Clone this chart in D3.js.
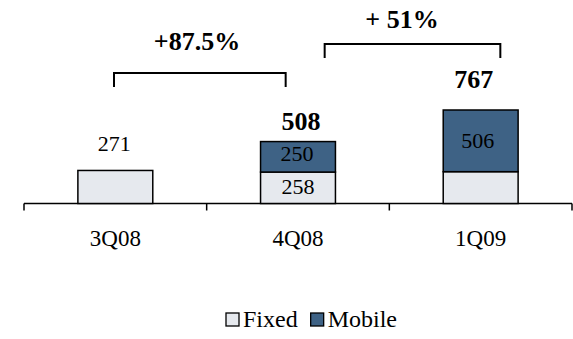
<!DOCTYPE html>
<html><head><meta charset="utf-8">
<script src="https://cdn.jsdelivr.net/npm/d3@7"></script>
<style>body{margin:0;background:#fff}svg{display:block}text{font-family:"Liberation Serif","Times New Roman",serif;fill:#000}</style>
</head><body><svg id="c" width="573" height="339"></svg>
<script>
const categories = ["3Q08", "4Q08", "1Q09"];
const fixedValues = [271, 258, 261];
const mobileValues = [0, 250, 506];
const totalLabels = [null, 508, 767];
const fixedLabels = ["271", "258", ""];
const mobileLabels = ["", "250", "506"];
const growthLabels = ["+87.5%", "+ 51%"];
const seriesNames = ["Fixed", "Mobile"];
const colors = {Fixed: "#e6e9ee", Mobile: "#3e6285"};

const svg = d3.select("#c");
const x = d3.scaleBand().domain(categories).range([24, 572]).padding(0);
const y = d3.scaleLinear().domain([0, 767]).range([203.5, 110]);
const bw = x.bandwidth() * 0.41;

const data = categories.map((c, i) => ({cat: c, Fixed: fixedValues[i], Mobile: mobileValues[i]}));
const stacked = d3.stack().keys(seriesNames)(data);

// axis
const axisG = svg.append("g").attr("transform", "translate(0,203.5)");
axisG.append("line").attr("x1", 24).attr("x2", 572).attr("stroke", "#000").attr("stroke-width", 1.5);
const tickXs = categories.map(c => x(c)).concat([x(categories[categories.length-1]) + x.bandwidth()]);
axisG.selectAll("line.tick").data(tickXs).join("line").attr("class","tick")
  .attr("x1", d => d).attr("x2", d => d).attr("y1", 0).attr("y2", 7)
  .attr("stroke", "#000").attr("stroke-width", 1.5);
axisG.selectAll("text.cat").data(categories).join("text").attr("class","cat")
  .attr("x", d => x(d) + x.bandwidth()/2).attr("y", 42)
  .attr("text-anchor", "middle").attr("font-size", 23).text(d => d);

// bars
stacked.forEach(s => {
  svg.append("g").selectAll("rect").data(s.filter(d => d[1] - d[0] > 0)).join("rect")
    .attr("x", d => x(d.data.cat) + x.bandwidth()/2 - bw/2)
    .attr("width", bw)
    .attr("y", d => y(d[1]))
    .attr("height", d => y(d[0]) - y(d[1]))
    .attr("fill", colors[s.key]).attr("stroke", "#000").attr("stroke-width", 1.5);
});

// labels
categories.forEach((c, i) => {
  const cx = x(c) + x.bandwidth()/2;
  const fs = stacked[0][i], ms = stacked[1][i];
  if (fixedLabels[i]) {
    if (mobileValues[i] === 0) {
      svg.append("text").attr("x", cx - 1).attr("y", y(fs[1]) - 19).attr("text-anchor","middle").attr("font-size", 22).text(fixedLabels[i]);
    } else {
      svg.append("text").attr("x", cx).attr("y", (y(fs[0]) + y(fs[1]))/2 + 6.5).attr("text-anchor","middle").attr("font-size", 22).text(fixedLabels[i]);
    }
  }
  if (mobileLabels[i]) {
    const h = y(ms[0]) - y(ms[1]);
    const ty = h > 45 ? y(ms[1]) + 38 : (y(ms[0]) + y(ms[1]))/2 + 4;
    svg.append("text").attr("x", cx - (h > 45 ? 3 : 1)).attr("y", ty).attr("text-anchor","middle").attr("font-size", 22).text(mobileLabels[i]);
  }
  if (totalLabels[i] != null) {
    svg.append("text").attr("x", cx + (i === 2 ? -7 : 3)).attr("y", y(totalLabels[i]) - (i === 2 ? 22 : 12)).attr("text-anchor","middle")
      .attr("font-size", 26).attr("font-weight", "bold").text(totalLabels[i]);
  }
});

// growth brackets
const brackets = [
  {x1: x(categories[0]) + 90, x2: x(categories[1]) + 79, top: 73, label: growthLabels[0], tx: 197, ty: 50},
  {x1: x(categories[1]) + 118, x2: x(categories[2]) + 111, top: 44, label: growthLabels[1], tx: 402, ty: 28}
];
brackets.forEach(b => {
  svg.append("path").attr("d", `M${b.x1},${b.top+14}V${b.top}H${b.x2}V${b.top+14}`)
    .attr("fill","none").attr("stroke","#000").attr("stroke-width",2);
  svg.append("text").attr("x", b.tx).attr("y", b.ty).attr("text-anchor","middle")
    .attr("font-size", 26).attr("font-weight","bold").text(b.label);
});

// legend
const lg = svg.append("g").attr("transform", "translate(226,313)");
let lx = 0;
seriesNames.forEach(n => {
  lg.append("rect").attr("x", lx).attr("y", 0).attr("width", 13).attr("height", 13)
    .attr("fill", colors[n]).attr("stroke", "#000").attr("stroke-width", 1.3);
  const t = lg.append("text").attr("x", lx + 17).attr("y", 14).attr("font-size", 24).text(n);
  lx += 17 + t.node().getComputedTextLength() + 13;
});
</script></body></html>
